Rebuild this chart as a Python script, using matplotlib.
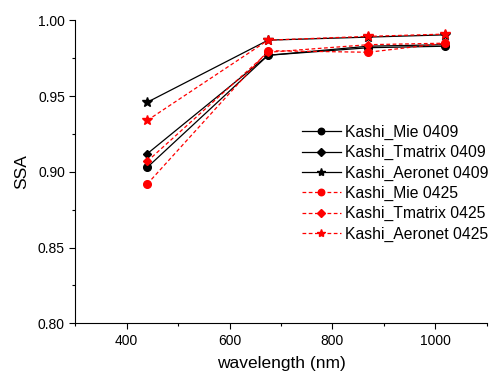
import matplotlib
matplotlib.use("Agg")
import matplotlib.pyplot as plt
from matplotlib.ticker import MultipleLocator

plt.rcParams['font.family'] = ['Liberation Sans', 'DejaVu Sans']

# wavelengths (nm) and SSA values
wavelength = [440, 675, 870, 1020]
mie_0409 = [0.903, 0.977, 0.982, 0.983]
tmatrix_0409 = [0.912, 0.977, 0.983, 0.984]
aeronet_0409 = [0.946, 0.987, 0.989, 0.9905]
mie_0425 = [0.892, 0.980, 0.979, 0.985]
tmatrix_0425 = [0.907, 0.979, 0.984, 0.985]
aeronet_0425 = [0.934, 0.987, 0.9895, 0.991]

fig = plt.figure(figsize=(4.94, 3.72), dpi=100)
ax = fig.add_axes([0.1525, 0.131, 0.8325, 0.814])

dash = (3, 2)
ax.plot(wavelength, mie_0409, '-', color='black', lw=0.9, marker='o', ms=5.5, label='Kashi_Mie 0409')
ax.plot(wavelength, tmatrix_0409, '-', color='black', lw=0.9, marker='D', ms=4.5, label='Kashi_Tmatrix 0409')
ax.plot(wavelength, aeronet_0409, '-', color='black', lw=0.9, marker='*', ms=7, label='Kashi_Aeronet 0409')
ax.plot(wavelength, mie_0425, '--', dashes=dash, color='red', lw=0.9, marker='o', ms=5.5, label='Kashi_Mie 0425')
ax.plot(wavelength, tmatrix_0425, '--', dashes=dash, color='red', lw=0.9, marker='D', ms=4.5, label='Kashi_Tmatrix 0425')
ax.plot(wavelength, aeronet_0425, '--', dashes=dash, color='red', lw=0.9, marker='*', ms=7, label='Kashi_Aeronet 0425')

ax.set_xlim(300, 1100)
ax.set_ylim(0.80, 1.00)
ax.xaxis.set_major_locator(MultipleLocator(200))
ax.xaxis.set_minor_locator(MultipleLocator(100))
ax.yaxis.set_major_locator(MultipleLocator(0.05))
ax.yaxis.set_minor_locator(MultipleLocator(0.025))
ax.yaxis.set_major_formatter(plt.FormatStrFormatter('%.2f'))
ax.tick_params(which='major', direction='out', length=4, width=0.8, labelsize=10)
ax.tick_params(which='minor', direction='out', length=2.5, width=0.8)
ax.spines['top'].set_visible(False)
ax.spines['right'].set_visible(False)

ax.set_xlabel('wavelength (nm)', fontsize=12.5, labelpad=6)
ax.set_ylabel('SSA', fontsize=12.5, labelpad=6)

ax.legend(loc='upper left', bbox_to_anchor=(0.55, 0.655), frameon=False,
          fontsize=11.3, handlelength=2.5, handletextpad=0.3,
          labelspacing=0.33, borderpad=0, borderaxespad=0, markerscale=0.85)

fig.savefig('out.png', dpi=100)
